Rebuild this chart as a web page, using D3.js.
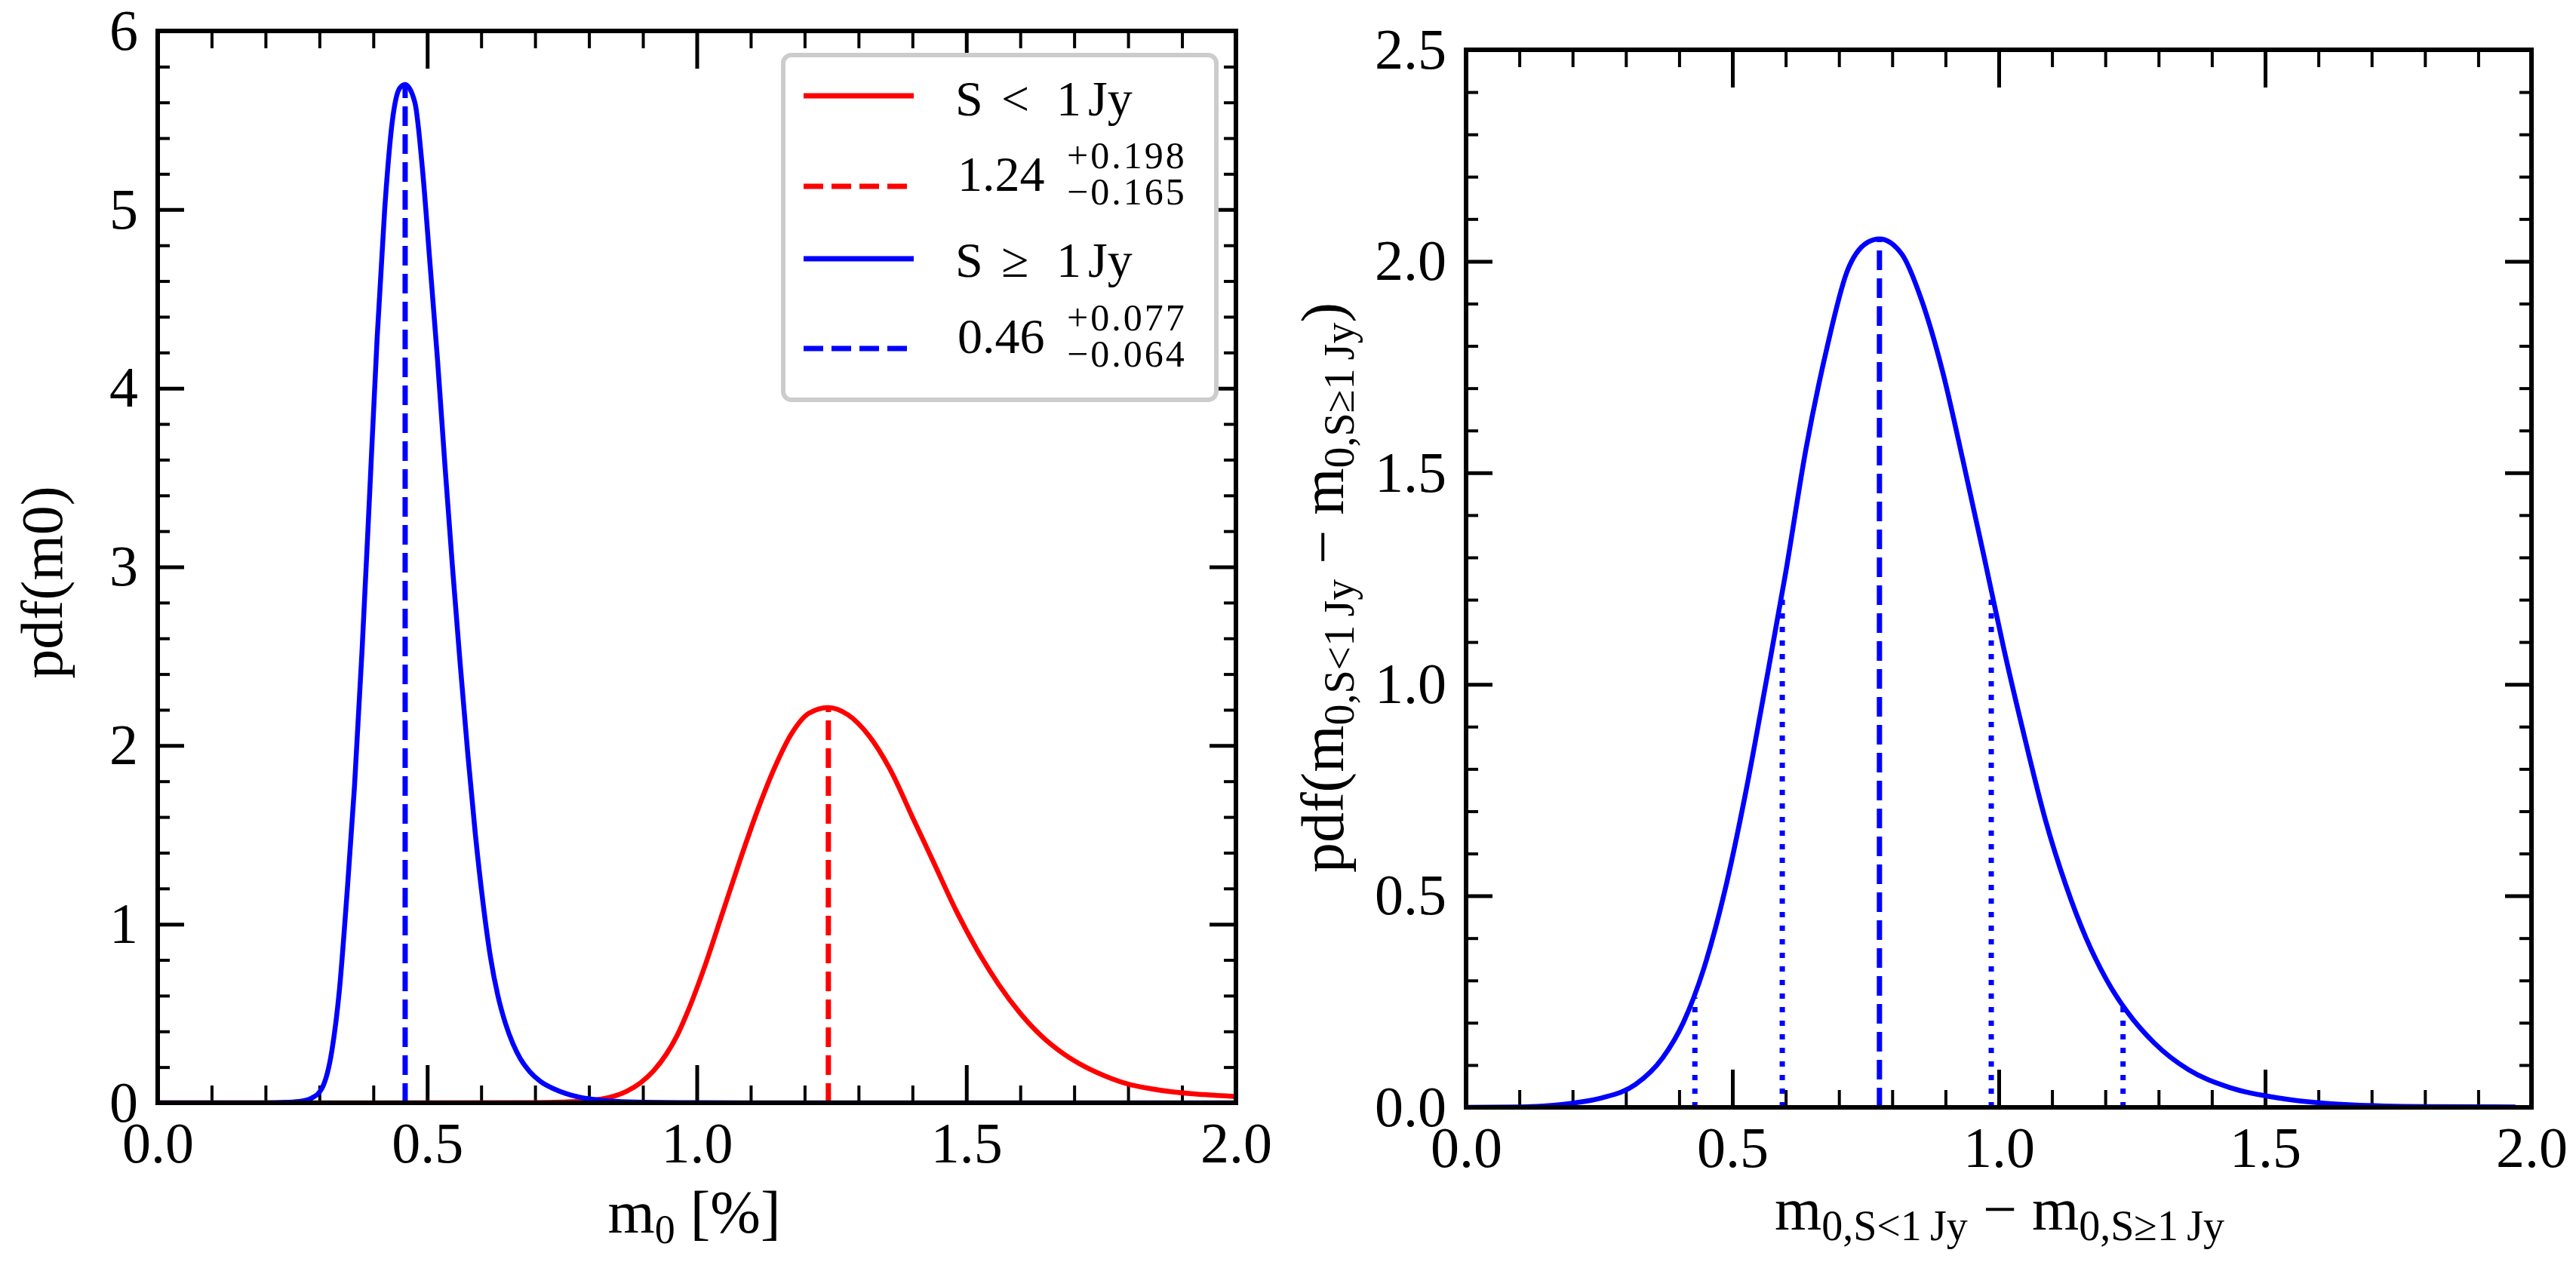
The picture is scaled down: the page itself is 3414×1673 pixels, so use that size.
<!DOCTYPE html>
<html><head><meta charset="utf-8">
<script src="https://cdn.jsdelivr.net/npm/d3@7"></script>
<style>
html,body{margin:0;padding:0;background:#fff;}
svg text{font-family:"Liberation Serif","Times New Roman",serif;fill:#000;}
.tick text{font-size:76px;}
</style></head><body>
<svg id="c" width="3414" height="1673"></svg>
<script>
// ---------------- data ----------------
const xTickValues = [0, 0.5, 1.0, 1.5, 2.0];
const leftYTickValues = [0, 1, 2, 3, 4, 5, 6];
const rightYTickValues = [0, 0.5, 1.0, 1.5, 2.0, 2.5];

// left panel: S >= 1 Jy (blue)
const blueX = [0.00,0.20,0.24,0.267,0.286,0.305,0.323,0.337,0.351,0.365,0.379,0.393,0.407,0.421,0.435,0.449,0.459,0.477,0.491,0.505,0.519,0.533,0.547,0.561,0.575,0.589,0.603,0.617,0.631,0.645,0.659,0.673,0.69,0.71,0.735,0.757,0.78,0.80,0.85,0.90,1.00,1.20,2.00];
const blueY = [0.000,0.000,0.003,0.010,0.027,0.083,0.29,0.63,1.165,1.77,2.53,3.40,4.28,5.00,5.49,5.68,5.70,5.60,5.23,4.70,4.16,3.56,2.99,2.46,1.96,1.51,1.13,0.82,0.60,0.445,0.33,0.245,0.175,0.12,0.078,0.052,0.033,0.022,0.008,0.003,0.001,0.000,0.000];
// left panel: S < 1 Jy (red)
const redX = [0.00,0.70,0.75,0.80,0.84,0.87,0.896,0.92,0.944,0.964,0.984,1.016,1.048,1.08,1.112,1.144,1.176,1.208,1.244,1.28,1.32,1.36,1.40,1.44,1.48,1.52,1.56,1.60,1.64,1.68,1.72,1.76,1.80,1.84,1.88,1.94,2.00];
const redY = [0.000,0.001,0.004,0.012,0.032,0.065,0.113,0.18,0.275,0.38,0.517,0.775,1.066,1.357,1.632,1.874,2.068,2.181,2.213,2.173,2.052,1.858,1.599,1.341,1.082,0.856,0.662,0.501,0.372,0.275,0.202,0.147,0.105,0.080,0.062,0.046,0.035];
const redMode = [1.244], redModePdf = [2.213];
const blueMode = [0.459], blueModePdf = [5.70];

// right panel: difference pdf
const diffX = [0.00,0.10,0.164,0.20,0.254,0.318,0.369,0.408,0.446,0.485,0.523,0.562,0.600,0.638,0.677,0.715,0.754,0.776,0.818,0.856,0.895,0.933,0.972,1.010,1.049,1.087,1.126,1.164,1.203,1.241,1.292,1.356,1.433,1.536,1.664,1.80,1.97];
const diffY = [0.000,0.001,0.005,0.010,0.022,0.054,0.117,0.201,0.327,0.508,0.732,0.997,1.264,1.556,1.793,1.975,2.045,2.053,2.017,1.905,1.737,1.528,1.304,1.081,0.872,0.682,0.525,0.400,0.300,0.226,0.152,0.089,0.047,0.020,0.006,0.002,0.001];
const diffMode = [0.776], diffModePdf = [2.053];
const diffPctX = [0.4295, 0.5936, 0.9859, 1.2333];
const diffPctPdf = [0.26, 1.21, 1.21, 0.24];

// legend
const legendMain = ["S", "1.24", "S", "0.46"];
const legendUpper = ["+0.198", "+0.077"];
const legendLower = ["\u22120.165", "\u22120.064"];

// ---------------- drawing ----------------
const svg = d3.select("#c");
const RED = "#ff0000", BLUE = "#0000ff";

function panel(box, xDom, yDom, yTicks, yFmt, yMinorStep, clipId) {
  const x = d3.scaleLinear().domain(xDom).range([box.l, box.r]);
  const y = d3.scaleLinear().domain(yDom).range([box.b, box.t]);
  const g = svg.append("g");
  const xMinor = d3.range(0, 2.0001, 0.1).filter(v => Math.abs(v*2 - Math.round(v*2)) > 1e-6);
  const yMinor = d3.range(yDom[0], yDom[1] + 1e-6, yMinorStep).filter(v => !yTicks.some(t => Math.abs(t - v) < 1e-6));
  const clean = sel => { sel.select(".domain").remove(); sel.attr("font-size", null).attr("font-family", null); };
  // x axes
  g.append("g").attr("transform", `translate(0,${box.b})`)
    .call(d3.axisBottom(x).tickValues(xTickValues).tickSize(-50).tickPadding(25).tickFormat(d3.format(".1f")))
    .call(clean).selectAll("line").attr("stroke-width", 5);
  g.append("g").attr("transform", `translate(0,${box.b})`)
    .call(d3.axisBottom(x).tickValues(xMinor).tickSize(-23).tickFormat(""))
    .call(clean).selectAll("line").attr("stroke-width", 4);
  g.append("g").attr("transform", `translate(0,${box.t})`)
    .call(d3.axisTop(x).tickValues(xTickValues).tickSize(-50).tickFormat(""))
    .call(clean).selectAll("line").attr("stroke-width", 5);
  g.append("g").attr("transform", `translate(0,${box.t})`)
    .call(d3.axisTop(x).tickValues(xMinor).tickSize(-23).tickFormat(""))
    .call(clean).selectAll("line").attr("stroke-width", 4);
  // y axes
  g.append("g").attr("transform", `translate(${box.l},0)`)
    .call(d3.axisLeft(y).tickValues(yTicks).tickSize(-35).tickPadding(26).tickFormat(d3.format(yFmt)))
    .call(clean).selectAll("line").attr("stroke-width", 5);
  g.append("g").attr("transform", `translate(${box.l},0)`)
    .call(d3.axisLeft(y).tickValues(yMinor).tickSize(-16).tickFormat(""))
    .call(clean).selectAll("line").attr("stroke-width", 4);
  g.append("g").attr("transform", `translate(${box.r},0)`)
    .call(d3.axisRight(y).tickValues(yTicks).tickSize(-35).tickFormat(""))
    .call(clean).selectAll("line").attr("stroke-width", 5);
  g.append("g").attr("transform", `translate(${box.r},0)`)
    .call(d3.axisRight(y).tickValues(yMinor).tickSize(-16).tickFormat(""))
    .call(clean).selectAll("line").attr("stroke-width", 4);
  svg.append("clipPath").attr("id", clipId).append("rect")
    .attr("x", box.l).attr("y", box.t).attr("width", box.r - box.l).attr("height", box.b - box.t);
  const plot = svg.append("g").attr("clip-path", `url(#${clipId})`);
  return {x, y, plot, box};
}

function curve(p, xs, ys, color) {
  const line = d3.line().x(d => p.x(d[0])).y(d => p.y(d[1])).curve(d3.curveMonotoneX);
  p.plot.append("path").datum(d3.zip(xs, ys)).attr("d", line)
    .attr("fill", "none").attr("stroke", color).attr("stroke-width", 6.5).attr("stroke-linejoin", "round");
}
function vlines(p, xs, ys, color, dash) {
  p.plot.selectAll(null).data(d3.zip(xs, ys)).enter().append("line")
    .attr("x1", d => p.x(d[0])).attr("x2", d => p.x(d[0]))
    .attr("y1", p.y(0)).attr("y2", d => p.y(d[1]))
    .attr("stroke", color).attr("stroke-width", 7).attr("stroke-dasharray", dash);
}
function frame(box) {
  svg.append("rect").attr("x", box.l).attr("y", box.t).attr("width", box.r - box.l).attr("height", box.b - box.t)
    .attr("fill", "none").attr("stroke", "#000").attr("stroke-width", 6);
}

// ---- left panel ----
const L = panel({l: 209, r: 1638, t: 41, b: 1462}, [0, 2], [0, 6], leftYTickValues, "d", 0.2, "clipL");
curve(L, redX, redY, RED);
vlines(L, redMode, redModePdf, RED, "26 11");
curve(L, blueX, blueY, BLUE);
vlines(L, blueMode, blueModePdf, BLUE, "26 11");
frame(L.box);

// ---- right panel ----
const R = panel({l: 1943, r: 3355, t: 66, b: 1468}, [0, 2], [0, 2.5], rightYTickValues, ".1f", 0.1, "clipR");
curve(R, diffX, diffY, BLUE);
vlines(R, diffMode, diffModePdf, BLUE, "26 11");
vlines(R, diffPctX, diffPctPdf, BLUE, "7 11");
frame(R.box);

// ---- axis labels ----
function label(x, y, rot, parts, size, subSize) {
  const t = svg.append("text").attr("transform", `translate(${x},${y}) rotate(${rot})`)
    .attr("text-anchor", "middle").style("font-size", size + "px");
  parts.forEach(pt => {
    const s = t.append("tspan").text(pt.t);
    if (pt.sub) s.style("font-size", subSize + "px").attr("dy", 14);
    if (pt.back) s.attr("dy", -14);
  });
}
label(920, 1634, 0, [{t: "m"}, {t: "0", sub: true}, {t: "\u00a0[%]", back: true}], 80, 54);
label(82, 772, -90, [{t: "pdf(m0)"}], 78, 54);
label(2650, 1630, 0, [{t: "m"}, {t: "0,S<1\u2009Jy", sub: true}, {t: " \u2212 m", back: true}, {t: "0,S\u22651\u2009Jy", sub: true}], 80, 56);
label(1780, 779, -90, [{t: "pdf(m"}, {t: "0,S<1\u2009Jy", sub: true}, {t: " \u2212 m", back: true}, {t: "0,S\u22651\u2009Jy", sub: true}, {t: ")", back: true}], 80, 56);

// ---- legend ----
const lg = svg.append("g");
lg.append("rect").attr("x", 1038).attr("y", 73).attr("width", 574).attr("height", 457).attr("rx", 11)
  .attr("fill", "#fff").attr("stroke", "#cccccc").attr("stroke-width", 6);
const rows = [
  {y: 127, color: RED, dash: null, base: 153},
  {y: 247, color: RED, dash: "26 11", base: 253},
  {y: 343, color: BLUE, dash: null, base: 367},
  {y: 462, color: BLUE, dash: "26 11", base: 468}
];
rows.forEach((r, i) => {
  lg.append("line").attr("x1", 1065).attr("x2", 1211).attr("y1", r.y).attr("y2", r.y)
    .attr("stroke", r.color).attr("stroke-width", 7).attr("stroke-dasharray", r.dash);
  const t = lg.append("text").attr("y", r.base).style("font-size", "66px");
  if (i % 2 === 0) {
    t.append("tspan").attr("x", 1266).text(legendMain[i]);
    t.append("tspan").attr("x", 1327).text(i === 0 ? "<" : "\u2265");
    t.append("tspan").attr("x", 1400).text("1");
    t.append("tspan").attr("x", 1442).text("Jy");
  } else {
    t.append("tspan").attr("x", 1269).text(legendMain[i]);
    const k = (i - 1) / 2;
    lg.append("text").attr("x", 1414).attr("y", r.base - 30).style("font-size", "50px")
      .style("letter-spacing", "3px").text(legendUpper[k]);
    lg.append("text").attr("x", 1414).attr("y", r.base + 18).style("font-size", "50px")
      .style("letter-spacing", "3px").text(legendLower[k]);
  }
});
</script>
</body></html>
